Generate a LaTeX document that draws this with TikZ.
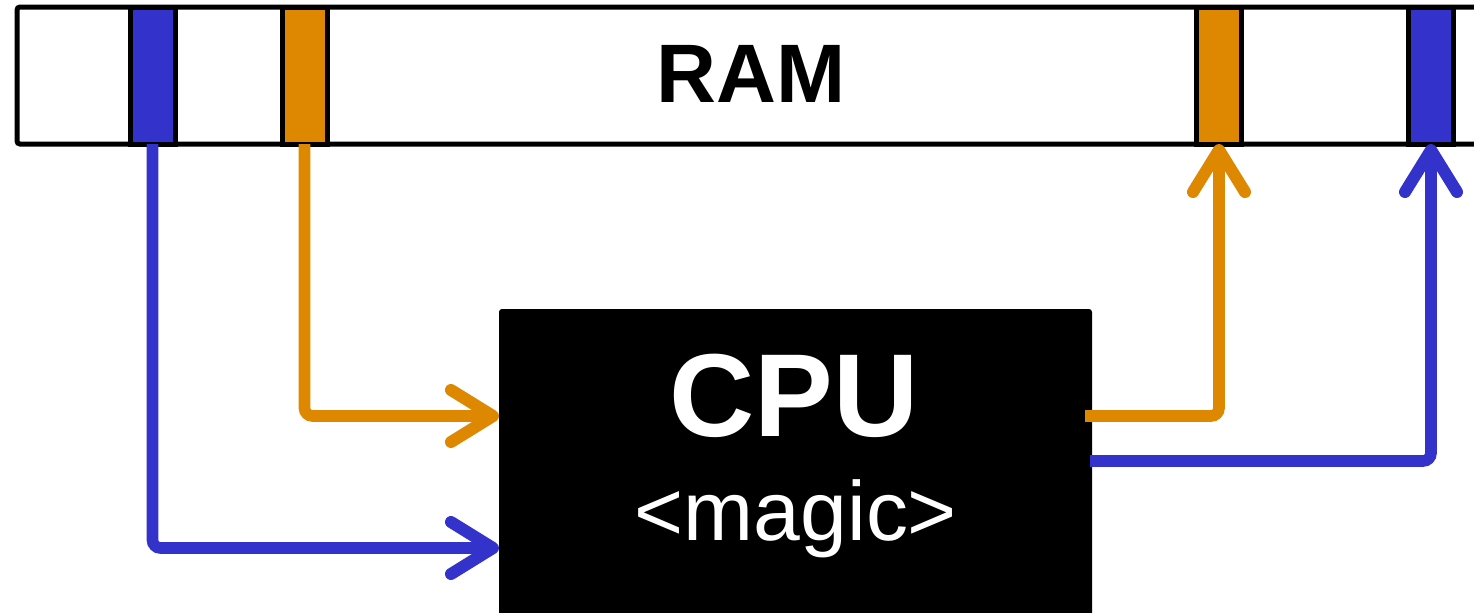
\documentclass[tikz,border=0pt]{standalone}
\usepackage{fontspec}
\setmainfont{Liberation Sans}
\usetikzlibrary{arrows.meta}
\definecolor{memblue}{RGB}{51,51,204}
\definecolor{memorange}{RGB}{221,136,0}
\tikzset{
  cellbox/.style={draw=black, line width=2.5pt, minimum width=22.5pt, minimum height=68.5pt, inner sep=0pt, outer sep=0pt},
  conn/.style={line width=5.8pt, rounded corners=4pt, -{Straight Barb[length=21pt,width=26pt,line width=6pt,round]}},
}
\begin{document}
\begin{tikzpicture}[x=0.5pt,y=-0.5pt]
\useasboundingbox (0,0) rectangle (1474,612);
\clip (0,0) rectangle (1474,612);
% RAM bar
\node[draw=black, line width=2.5pt, rounded corners=1.5pt, minimum width=735pt, minimum height=68.5pt, inner sep=0pt, outer sep=0pt, anchor=north west] (ram) at (17,7) {};
\node[cellbox, fill=memblue] (b1) at (152.5,75.5) {};
\node[cellbox, fill=memorange] (o1) at (304.5,75.5) {};
\node[cellbox, fill=memorange] (o2) at (1219,75.5) {};
\node[cellbox, fill=memblue] (b2) at (1431,75.5) {};
\node[anchor=base, font=\bfseries\fontsize{41.5pt}{44pt}\selectfont] (ramlabel) at (751,102) {RAM};
% CPU
\node[fill=black, rounded corners=1.5pt, minimum width=296.5pt, minimum height=200pt, inner sep=0pt, outer sep=0pt, anchor=north west] (cpu) at (499,309) {};
\node[anchor=base, text=white, font=\bfseries\fontsize{59pt}{62pt}\selectfont] (cpulabel) at (794,436) {CPU};
\node[anchor=base, text=white, font=\fontsize{42pt}{45pt}\selectfont] (magic) at (796,540) {<magic>};
% levels
\coordinate (yo) at (0,416);
\coordinate (yb) at (0,548);
\coordinate (yo2) at (0,416);
\coordinate (yb2) at (0,461);
% connectors
\draw[conn, memblue] (b1.south) |- (cpu.west |- yb);
\draw[conn, memorange] (o1.south) |- (cpu.west |- yo);
\draw[conn, memorange] ([xshift=-3.5pt]cpu.east |- yo2) -| (o2.south);
\draw[conn, memblue] ([xshift=-1pt]cpu.east |- yb2) -| (b2.south);
\end{tikzpicture}
\end{document}
